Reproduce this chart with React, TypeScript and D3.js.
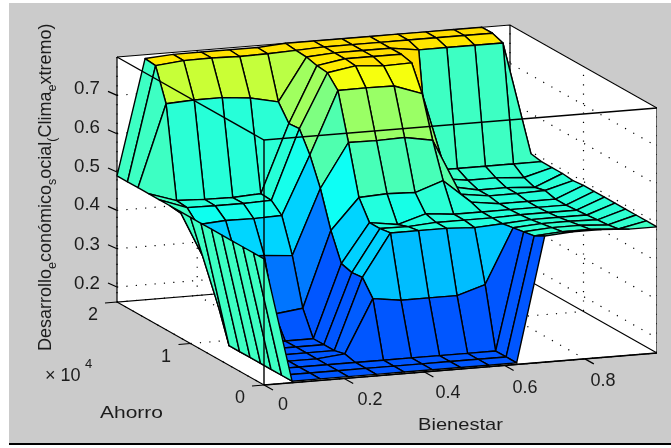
import React from "react";
import * as d3 from "d3";

const bienestar = d3.range(15).map((i) => +(i * 0.07).toFixed(2));
const ahorro = d3.range(15).map((j) => (j * 20000) / 14);
const xTicks = [0, 0.2, 0.4, 0.6, 0.8];
const xTickLabels = ["0", "0.2", "0.4", "0.6", "0.8"];
const yTicks = [0, 10000, 20000];
const yTickLabels = ["0", "1", "2"];
const zTicks = [0.2, 0.3, 0.4, 0.5, 0.6, 0.7];
const zTickLabels = ["0.2", "0.3", "0.4", "0.5", "0.6", "0.7"];

// desarrollo[i][j]: i indexes Bienestar, j indexes Ahorro
const col0 = [0.49, 0.49, 0.49, 0.49, 0.49, 0.49, 0.49, 0.49, 0.49, 0.49, 0.49, 0.49, 0.49, 0.49, 0.49];
const col1 = [0.165, 0.165, 0.165, 0.165, 0.165, 0.165, 0.165, 0.25, 0.34, 0.434, 0.463, 0.466, 0.703, 0.787, 0.79];
const col2 = [0.165, 0.165, 0.165, 0.165, 0.165, 0.165, 0.165, 0.22, 0.36, 0.439, 0.462, 0.463, 0.707, 0.794, 0.795];
const col3 = [0.165, 0.165, 0.165, 0.165, 0.165, 0.165, 0.165, 0.22, 0.357, 0.438, 0.462, 0.462, 0.707, 0.795, 0.795];
const col4 = [0.165, 0.165, 0.165, 0.172, 0.165, 0.165, 0.165, 0.229, 0.351, 0.44, 0.464, 0.466, 0.7, 0.793, 0.795];
const col5 = [0.165, 0.165, 0.165, 0.31, 0.35, 0.347, 0.355, 0.426, 0.52, 0.592, 0.645, 0.643, 0.684, 0.794, 0.795];
const col6 = [0.165, 0.165, 0.165, 0.3, 0.46, 0.456, 0.456, 0.506, 0.634, 0.754, 0.785, 0.788, 0.795, 0.797, 0.8];
const col7 = [0.165, 0.165, 0.165, 0.3, 0.46, 0.455, 0.445, 0.51, 0.633, 0.755, 0.797, 0.8, 0.8, 0.8, 0.8];
const col8 = [0.165, 0.165, 0.165, 0.3, 0.46, 0.46, 0.467, 0.507, 0.635, 0.754, 0.791, 0.8, 0.8, 0.8, 0.8];
const col9 = [0.165, 0.165, 0.165, 0.323, 0.456, 0.46, 0.46, 0.532, 0.622, 0.728, 0.793, 0.8, 0.8, 0.8, 0.8];
const col10 = [0.49, 0.475, 0.47, 0.465, 0.46, 0.46, 0.46, 0.47, 0.475, 0.48, 0.485, 0.49, 0.79, 0.8, 0.8];
const col11 = [0.495, 0.48, 0.475, 0.47, 0.465, 0.462, 0.46, 0.46, 0.465, 0.465, 0.475, 0.49, 0.79, 0.8, 0.8];
const col12 = [0.495, 0.48, 0.475, 0.47, 0.465, 0.462, 0.46, 0.46, 0.465, 0.465, 0.475, 0.49, 0.79, 0.8, 0.8];
const col13 = [0.49, 0.475, 0.47, 0.468, 0.465, 0.462, 0.46, 0.46, 0.467, 0.46, 0.47, 0.49, 0.79, 0.8, 0.8];
const col14 = [0.49, 0.49, 0.49, 0.49, 0.49, 0.49, 0.49, 0.49, 0.487, 0.49, 0.49, 0.49, 0.495, 0.49, 0.49];
const desarrollo = [col0, col1, col2, col3, col4, col5, col6, col7, col8, col9, col10, col11, col12, col13, col14];

const X_MAX = 0.98;
const Y_MAX = 20000;
const Z_MIN = 0.161;
const Z_MAX = 0.8;

const sxX = d3.scaleLinear().domain([0, X_MAX]).range([264, 657]);
const syX = d3.scaleLinear().domain([0, X_MAX]).range([385, 353]);
const sxY = d3.scaleLinear().domain([0, Y_MAX]).range([0, -147]);
const syY = d3.scaleLinear().domain([0, Y_MAX]).range([0, -83]);
const syZ = d3.scaleLinear().domain([Z_MIN, Z_MAX]).range([0, -245]);

const project = (x: number, y: number, z: number): [number, number] => [
  sxX(x) + sxY(y),
  syX(x) + syY(y) + syZ(z),
];

const zToFrac = d3
  .scaleLinear()
  .domain([0.165, 0.23, 0.3, 0.36, 0.44, 0.465, 0.49, 0.705, 0.8])
  .range([0.21, 0.245, 0.31, 0.335, 0.395, 0.415, 0.434, 0.571, 0.658]);
const jet = d3
  .scaleLinear<string>()
  .domain([0.125, 0.375, 0.625, 0.875])
  .range(["#0000ff", "#00ffff", "#ffff00", "#ff0000"])
  .interpolate(d3.interpolateRgb)
  .clamp(true);
const colorOf = (z: number) => jet(zToFrac(z));

const lineGen = d3.line<[number, number]>();
const path3 = (pts: [number, number, number][]) =>
  lineGen(pts.map((p) => project(p[0], p[1], p[2]))) as string;

const cells: { d: string; fill: string; key: string }[] = [];
for (let i = 13; i >= 0; i--) {
  for (let j = 13; j >= 0; j--) {
    const pts: [number, number, number][] = [
      [bienestar[i], ahorro[j], desarrollo[i][j]],
      [bienestar[i + 1], ahorro[j], desarrollo[i + 1][j]],
      [bienestar[i + 1], ahorro[j + 1], desarrollo[i + 1][j + 1]],
      [bienestar[i], ahorro[j + 1], desarrollo[i][j + 1]],
    ];
    cells.push({ d: path3(pts) + "Z", fill: colorOf(desarrollo[i][j]), key: `${i}-${j}` });
  }
}

const TXT = "#1c1c1c";
const FONT = "'Liberation Sans', Arial, sans-serif";

export default function App() {
  const gridPaths: string[] = [];
  zTicks.forEach((z) => {
    gridPaths.push(path3([[0, Y_MAX, z], [X_MAX, Y_MAX, z], [X_MAX, 0, z]]));
  });
  xTicks.forEach((x) => {
    gridPaths.push(path3([[x, Y_MAX, Z_MAX], [x, Y_MAX, Z_MIN], [x, 0, Z_MIN]]));
  });
  yTicks.forEach((y) => {
    gridPaths.push(path3([[0, y, Z_MIN], [X_MAX, y, Z_MIN], [X_MAX, y, Z_MAX]]));
  });

  const walls: string[] = [
    path3([[0, Y_MAX, Z_MIN], [0, Y_MAX, Z_MAX], [X_MAX, Y_MAX, Z_MAX], [X_MAX, Y_MAX, Z_MIN]]) + "Z",
    path3([[X_MAX, Y_MAX, Z_MIN], [X_MAX, Y_MAX, Z_MAX], [X_MAX, 0, Z_MAX], [X_MAX, 0, Z_MIN]]) + "Z",
    path3([[0, Y_MAX, Z_MIN], [X_MAX, Y_MAX, Z_MIN], [X_MAX, 0, Z_MIN], [0, 0, Z_MIN]]) + "Z",
  ];
  const backBox = [
    path3([[0, Y_MAX, Z_MAX], [0, Y_MAX, Z_MIN], [X_MAX, Y_MAX, Z_MIN]]),
    path3([[0, Y_MAX, Z_MAX], [X_MAX, Y_MAX, Z_MAX], [X_MAX, 0, Z_MAX], [X_MAX, 0, Z_MIN]]),
    path3([[X_MAX, Y_MAX, Z_MAX], [X_MAX, Y_MAX, Z_MIN], [X_MAX, 0, Z_MIN]]),
    path3([[0, Y_MAX, Z_MIN], [0, 0, Z_MIN], [X_MAX, 0, Z_MIN]]),
  ];
  const frontBox = [
    path3([[0, Y_MAX, Z_MAX], [0, 0, Z_MAX], [X_MAX, 0, Z_MAX]]),
    path3([[0, 0, Z_MAX], [0, 0, Z_MIN]]),
    path3([[0, 0, Z_MIN], [X_MAX, 0, Z_MIN]]),
  ];

  const tickLines: [number, number, number, number][] = [];
  zTicks.forEach((z) => {
    const p = project(0, Y_MAX, z);
    tickLines.push([p[0] - 9, p[1] - 4, p[0], p[1]]);
  });
  xTicks.forEach((x) => {
    const p = project(x, 0, Z_MIN);
    tickLines.push([p[0], p[1], p[0] + 9, p[1] + 5]);
  });
  yTicks.forEach((y) => {
    const p = project(0, y, Z_MIN);
    tickLines.push([p[0] - 12, p[1] + 1, p[0], p[1]]);
  });

  const zLabelY = [283, 244, 204, 166, 127, 88];
  const xLabelPos: [number, number][] = [
    [283, 404],
    [370, 399],
    [448, 392],
    [525, 387],
    [603, 380],
  ];
  const yLabelPos: [number, number][] = [
    [240, 397],
    [166, 356],
    [93, 314],
  ];

  return (
    <svg
      width={671}
      height={448}
      viewBox="0 0 671 448"
      style={{ position: "absolute", left: 0, top: 0, display: "block" }}
    >
      <defs>
        <filter id="soft" x="0" y="0" width="100%" height="100%">
          <feGaussianBlur stdDeviation="0.4" />
        </filter>
      </defs>
      <rect x={0} y={0} width={671} height={448} fill="#ffffff" />
      <rect x={9} y={3} width={662} height={440} fill="#cbcbcb" />
      <rect x={9} y={443} width={662} height={2} fill="#000000" />
      <g filter="url(#soft)">
        {walls.map((d, k) => (
          <path key={k} d={d} fill="#ffffff" />
        ))}
        {gridPaths.map((d, k) => (
          <path key={k} d={d} fill="none" stroke="#000" strokeWidth={1.2} strokeDasharray="1.2 8.2" />
        ))}
        {backBox.map((d, k) => (
          <path key={k} d={d} fill="none" stroke="#000" strokeWidth={1.2} />
        ))}
        {cells.map((c) => (
          <path key={c.key} d={c.d} fill={c.fill} stroke="#000" strokeWidth={1.4} strokeLinejoin="round" />
        ))}
        {frontBox.map((d, k) => (
          <path key={k} d={d} fill="none" stroke="#000" strokeWidth={1.4} />
        ))}
        {tickLines.map((t, k) => (
          <line key={k} x1={t[0]} y1={t[1]} x2={t[2]} y2={t[3]} stroke="#000" strokeWidth={1.2} />
        ))}
        <g fontFamily={FONT} fontSize={18} fill={TXT}>
          {zTickLabels.map((s, k) => (
            <text key={s} x={87} y={zLabelY[k]} textAnchor="middle" dominantBaseline="central" textLength={26} lengthAdjust="spacingAndGlyphs">
              {s}
            </text>
          ))}
          {xTickLabels.map((s, k) => (
            <text key={s} x={xLabelPos[k][0]} y={xLabelPos[k][1]} textAnchor="middle" dominantBaseline="central">
              {s}
            </text>
          ))}
          {yTickLabels.map((s, k) => (
            <text key={s} x={yLabelPos[k][0]} y={yLabelPos[k][1]} textAnchor="middle" dominantBaseline="central">
              {s}
            </text>
          ))}
          <text x={100} y={418} textLength={63} lengthAdjust="spacingAndGlyphs" fontSize={17}>
            Ahorro
          </text>
          <text x={418} y={430} textLength={85} lengthAdjust="spacingAndGlyphs" fontSize={17}>
            Bienestar
          </text>
          <text x={45} y={381}>
            × 10
          </text>
          <text x={85} y={368} fontSize={13}>
            4
          </text>
          <text transform="translate(51,351) rotate(-90)" fontSize={18}>
            Desarrollo
            <tspan fontSize={12.5} dy={5}>e</tspan>
            <tspan dy={-5}>conómico</tspan>
            <tspan fontSize={12.5} dy={5}>s</tspan>
            <tspan dy={-5}>ocial</tspan>
            <tspan fontSize={12.5} dy={5}>(</tspan>
            <tspan dy={-5}>Clima</tspan>
            <tspan fontSize={12.5} dy={5}>e</tspan>
            <tspan dy={-5}>xtremo)</tspan>
          </text>
        </g>
      </g>
    </svg>
  );
}
